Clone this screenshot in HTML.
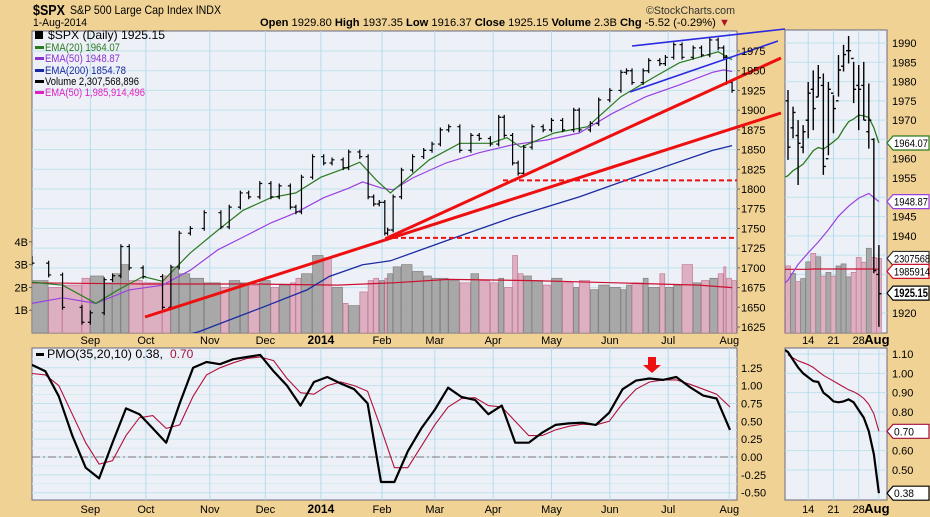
<!DOCTYPE html>
<html><head><meta charset="utf-8"><style>
body{margin:0;background:#f0d294;}
svg{display:block;font-family:"Liberation Sans",sans-serif;}
</style></head><body>
<svg id="chart" width="930" height="517" viewBox="0 0 930 517">
<rect x="0" y="0" width="930" height="517" fill="#f0d294"/>
<text x="33" y="15" font-size="15" font-weight="bold" fill="#000" textLength="32" lengthAdjust="spacingAndGlyphs">$SPX</text>
<text x="70" y="14" font-size="12" fill="#000" textLength="151" lengthAdjust="spacingAndGlyphs">S&amp;P 500 Large Cap Index INDX</text>
<text x="33" y="26" font-size="11" fill="#000" textLength="54" lengthAdjust="spacingAndGlyphs">1-Aug-2014</text>
<text x="646" y="14" font-size="11" fill="#333" textLength="89" lengthAdjust="spacingAndGlyphs">©StockCharts.com</text>
<text x="260" y="26" font-size="11" fill="#000" textLength="470" lengthAdjust="spacingAndGlyphs"><tspan font-weight="bold">Open</tspan> 1929.80 <tspan font-weight="bold">High</tspan> 1937.35 <tspan font-weight="bold">Low</tspan> 1916.37 <tspan font-weight="bold">Close</tspan> 1925.15 <tspan font-weight="bold">Volume</tspan> 2.3B <tspan font-weight="bold">Chg</tspan> -5.52 (-0.29%) <tspan fill="#b0102a">▼</tspan></text>
<defs>
<clipPath id="cMain"><rect x="32" y="31" width="705" height="302"/></clipPath>
<clipPath id="cPmo"><rect x="32" y="348" width="705" height="152"/></clipPath>
<clipPath id="cSmall"><rect x="785" y="30" width="102" height="303"/></clipPath>
<clipPath id="cSmallPmo"><rect x="785" y="348" width="102" height="152"/></clipPath>
</defs>
<g id="layer"></g>
</svg>
<script>
// ---------- main price data ----------
const days   = [0,6,11,18,21,26,29,32,35,40,47,50,53,57,62,68,71,75,78,82,86,89,93,95,97,101,105,108,112,114,118,121,123,125,127,128,130,133,137,141,144,147,150,154,158,161,165,168,170,173,175,177,180,184,187,191,195,197,201,204,208,212,214,216,220,222,226,228,231,234,238,241,244,247,249,250,252];
const closes = [1706,1691,1650,1631,1643,1685,1690,1727,1700,1689,1650,1701,1744,1750,1770,1752,1777,1795,1790,1807,1790,1804,1777,1771,1815,1841,1833,1837,1827,1847,1841,1790,1781,1783,1744,1748,1790,1824,1841,1849,1857,1875,1879,1849,1868,1864,1857,1891,1868,1833,1820,1853,1879,1875,1887,1875,1900,1875,1883,1913,1925,1948,1950,1935,1950,1963,1959,1967,1983,1967,1979,1970,1989,1979,1967,1935,1925];
const volumes = [2.3,2.0,2.1,2.4,2.5,2.2,2.6,3.0,2.3,2.2,2.5,2.9,2.6,2.4,2.2,2.0,2.3,2.2,2.1,2.3,2.0,2.1,2.2,2.4,2.6,3.4,3.3,2.0,1.3,1.2,1.8,2.3,2.4,2.3,2.4,2.6,2.9,3.0,2.7,2.5,2.4,2.4,2.3,2.2,2.6,2.3,2.2,2.4,2.0,3.4,2.6,2.5,2.3,2.1,2.4,2.2,2.0,2.3,1.9,2.1,2.0,1.9,2.1,2.2,2.4,2.0,2.6,2.0,2.1,3.0,2.2,2.3,2.4,2.6,2.9,2.4,2.3];
const ema20Days = [0,11,23,31,40,47,57,67,76,86,95,104,114,118,124,129,143,154,165,171,176,188,200,212,224,233,247,252];
const ema20Vals = [1682,1678,1655,1672,1689,1683,1719,1748,1773,1789,1795,1815,1828,1834,1811,1795,1837,1858,1858,1865,1853,1871,1879,1917,1942,1960,1974,1964];
const ema50Days = [0,11,23,35,47,57,67,76,86,95,105,114,119,126,130,137,149,161,173,185,197,209,221,233,245,249,252];
const ema50Vals = [1655,1662,1655,1672,1678,1697,1723,1739,1757,1770,1789,1801,1809,1801,1799,1814,1833,1846,1856,1862,1871,1896,1917,1932,1948,1951,1949];
const ema200Days = [30,60,83,99,107,119,129,152,173,197,221,245,252];
const ema200Vals = [1590,1619,1650,1672,1689,1704,1709,1738,1764,1790,1820,1849,1855];
const volEmaDays = [0,40,80,110,130,150,180,210,240,252];
const volEmaVals = [2.2,2.15,2.15,2.1,2.2,2.35,2.3,2.2,2.1,1.99];
const monthDays = [21,41,64,84,104,126,145,166,187,208,229,251];
const monthLabels = ["Sep","Oct","Nov","Dec","2014","Feb","Mar","Apr","May","Jun","Jul","Aug"];
const priceTicks = [1975,1950,1925,1900,1875,1850,1825,1800,1775,1750,1725,1700,1675,1650,1625];
const volTicks = [1,2,3,4];
// ---------- PMO (weekly) ----------
const pmoVals = [1.29,1.2,0.85,0.3,-0.15,-0.3,0.2,0.68,0.6,0.4,0.2,0.75,1.25,1.33,1.3,1.37,1.4,1.43,1.2,1.0,0.72,1.05,1.12,1.03,0.95,0.75,-0.35,-0.35,0.08,0.4,0.66,0.97,0.84,0.8,0.6,0.72,0.2,0.2,0.34,0.45,0.47,0.48,0.45,0.62,0.95,1.07,1.1,1.08,1.12,0.98,0.86,0.82,0.38];
const sigVals = [1.17,1.15,1.0,0.6,0.2,-0.1,-0.05,0.3,0.55,0.58,0.4,0.45,0.85,1.15,1.25,1.32,1.38,1.4,1.35,1.1,0.9,0.88,1.0,1.05,1.0,0.92,0.4,-0.15,-0.15,0.15,0.45,0.7,0.82,0.83,0.72,0.7,0.5,0.3,0.3,0.38,0.43,0.46,0.45,0.5,0.75,0.95,1.05,1.08,1.08,1.02,0.95,0.88,0.70];
const pmoTicks = [1.25,1.0,0.75,0.5,0.25,0.0,-0.25,-0.5];
// ---------- zoom panel (Jul 8 - Aug 1) ----------
const sOpens  = [1975,1968,1966,1963,1970,1978,1976,1979,1960,1977,1975,1984,1988,1986,1979,1979,1967,1965,1930];
const sHighs  = [1977.8,1973.5,1970.0,1968.7,1979.9,1982.9,1984.3,1982.1,1979.9,1976.5,1986.9,1989.5,1991.8,1985.1,1984.3,1985.1,1979.5,1965.3,1937.6];
const sLows   = [1959.7,1965.3,1953.2,1961.4,1965.3,1967.4,1976.1,1955.8,1960.9,1966.6,1976.1,1982.6,1984.7,1974.4,1967.4,1970.0,1962.6,1930.3,1916.4];
const sCloses = [1963,1972,1964,1967,1977,1973,1981,1958,1978,1973,1983,1987,1988,1978,1978,1970,1970,1931,1925];
const sVols   = [2.09,1.87,1.63,1.72,2.21,2.46,2.36,1.79,1.9,1.79,2.09,2.15,1.77,1.9,2.34,2.2,2.61,2.34,2.31];
const sVolEma = [1.99,1.99,1.99,1.99,1.99,2.0,2.0,2.0,2.0,2.0,2.0,2.0,2.0,2.0,2.0,2.0,2.0,2.0,1.99];
const sEma20  = [1955.6,1956.9,1957.7,1958.6,1960.3,1962.1,1962.9,1962.5,1963.4,1964.4,1965.5,1967.7,1969.6,1970.3,1971.3,1971.1,1970.7,1968.0,1964.07];
const sEma50Idx = [-1,0,2,4,6,8,10,12,14,16,18];
const sEma50Vals = [1927.3,1928.5,1932.6,1935.6,1938.4,1941.6,1945.1,1947.7,1949.8,1951.0,1948.87];
const sPmo = [1.11,1.07,1.03,1.0,0.98,0.96,0.955,0.9,0.88,0.855,0.85,0.855,0.865,0.85,0.81,0.77,0.70,0.58,0.38];
const sSig = [1.095,1.08,1.065,1.055,1.045,1.03,1.01,0.99,0.975,0.96,0.945,0.93,0.915,0.905,0.89,0.87,0.84,0.79,0.70];
const sDayTicks = [4,9,14,18];
const sDayLabels = ["14","21","28","Aug"];
const sPriceTicks = [1990,1985,1980,1975,1970,1965,1960,1955,1950,1945,1940,1935,1930,1925,1920];
const sPmoTicks = [1.10,1.00,0.90,0.80,0.70,0.60,0.50];

// ---------- scales ----------
const xD = d => 32 + d*2.778;
const yP = p => 51 + (1975-p)*0.7886;
const yV = v => 333 - v*22.8;
const xW = w => 32 + w*(698/52);
const yM = v => 457 - v*71.4;
const xS = i => 788 + i*5.05;
const yS = p => 43 + (1990-p)*3.857;
const yVS = v => 337 - v*34;
const yMS = v => 354 + (1.10-v)*193.3;

const NS="http://www.w3.org/2000/svg";
const root=document.getElementById('layer');
function mk(tag, attrs, parent){const e=document.createElementNS(NS,tag);for(const k in attrs)e.setAttribute(k,attrs[k]);(parent||root).appendChild(e);return e;}
function txt(x,y,s,attrs,parent){const e=mk('text',Object.assign({x:x,y:y,'font-size':11,fill:'#000'},attrs||{}),parent);e.textContent=s;return e;}
function poly(xs,ys,attrs,parent){let d='';for(let i=0;i<xs.length;i++)d+=(i?'L':'M')+xs[i].toFixed(1)+','+ys[i].toFixed(1);return mk('path',Object.assign({d:d,fill:'none'},attrs),parent);}

// ---------- panels ----------
let e;
e=mk('rect',{x:32,y:31,width:705,height:302,fill:'#eef0f8',stroke:'#6a6a80'});


e=mk('rect',{x:32,y:348,width:705,height:152,fill:'#eef0f8',stroke:'#6a6a80'});


e=mk('rect',{x:785,y:30,width:102,height:303,fill:'#eef0f8',stroke:'#6a6a80'});


e=mk('rect',{x:785,y:348,width:102,height:152,fill:'#eef0f8',stroke:'#6a6a80'});



// gridlines main
const gMain=mk('g',{'clip-path':'url(#cMain)'});


priceTicks.forEach(p=>{e=mk('line',{x1:32,x2:737,y1:yP(p),y2:yP(p),stroke:'#bfe2ea','stroke-width':1},gMain);

});
const gPmo=mk('g',{'clip-path':'url(#cPmo)'});


pmoTicks.forEach(v=>{e=mk('line',{x1:32,x2:737,y1:yM(v),y2:yM(v),stroke:'#bfe2ea'},gPmo);

});
[1.375,1.125,0.875,0.625,0.375,0.125,-0.125,-0.375].forEach(v=>{mk('line',{x1:32,x2:737,y1:yM(v),y2:yM(v),stroke:'#d6ebf0'},gPmo);});
monthDays.forEach((d,i)=>{
 e=mk('line',{x1:xD(d),x2:xD(d),y1:31,y2:333,stroke:'#b4dcea'},gMain);
 
 
 mk('line',{x1:xD(d),x2:xD(d),y1:348,y2:500,stroke:'#b4dcea'},gPmo);
 const bold = monthLabels[i]==="2014";
 e=txt(xD(d),344,monthLabels[i],{'text-anchor':'middle','font-weight':bold?'bold':'normal','font-size':bold?12:11});
 
 
 e=txt(xD(d),513,monthLabels[i],{'text-anchor':'middle','font-weight':bold?'bold':'normal','font-size':bold?12:11});
 
 
});
e=mk('line',{x1:32,x2:737,y1:yM(0),y2:yM(0),stroke:'#777','stroke-dasharray':'8,3,2,3'},gPmo);



// volume bars
for(let i=0;i<closes.length;i++){
 const x0=xD(days[i]); const x1=i<closes.length-1?xD(days[i+1]):737;
 const up = i===0 || closes[i]>=closes[i-1];
 e=mk('rect',{x:x0,y:yV(volumes[i]),width:Math.max(1,x1-x0-0.6),height:333-yV(volumes[i]),fill:up?'#a8a8a8':'#dcb0c0',stroke:up?'#808080':'#c47a98','stroke-width':0.7},gMain);
 
 
}
e=poly(volEmaDays.map(xD),volEmaVals.map(yV),{stroke:'#cc1030','stroke-width':1.2},gMain);


// EMAs
e=poly(ema200Days.map(xD),ema200Vals.map(yP),{stroke:'#1a2aa0','stroke-width':1.3},gMain);


e=poly(ema50Days.map(xD),ema50Vals.map(yP),{stroke:'#9a40e0','stroke-width':1.2},gMain);


e=poly(ema20Days.map(xD),ema20Vals.map(yP),{stroke:'#2a7a20','stroke-width':1.2},gMain);


// price bars
for(let i=0;i<closes.length;i++){
 const x=xD(days[i]); const prev=i?closes[i-1]:closes[i]+6;
 const hi=Math.max(prev,closes[i])+3, lo=Math.min(prev,closes[i])-3;
 e=mk('path',{d:`M${x},${yP(hi)}L${x},${yP(lo)}M${x-2.5},${yP(prev)}L${x},${yP(prev)}M${x},${yP(closes[i])}L${x+2.5},${yP(closes[i])}`,stroke:'#000','stroke-width':1.2,fill:'none'},gMain);
 
 
}
// annotations
e=mk('line',{x1:503,x2:737,y1:yP(1811),y2:yP(1811),stroke:'#ee1010','stroke-width':2,'stroke-dasharray':'5,3'});


e=mk('line',{x1:385,x2:737,y1:yP(1738),y2:yP(1738),stroke:'#ee1010','stroke-width':2,'stroke-dasharray':'5,3'});


e=mk('line',{x1:145,y1:317,x2:781,y2:113,stroke:'#ee1010','stroke-width':3});


e=mk('line',{x1:387,y1:238,x2:781,y2:58,stroke:'#ee1010','stroke-width':3});


e=mk('line',{x1:632,y1:46,x2:785,y2:29,stroke:'#2a2ae0','stroke-width':1.6});


e=mk('line',{x1:630,y1:92,x2:778,y2:41,stroke:'#2a2ae0','stroke-width':1.6});



// legend
const lg=[["$SPX (Daily) 1925.15","#000",39,12,117],["EMA(20) 1964.07","#2a7a20",51,11,75],["EMA(50) 1948.87","#8a30d0",62,11,75],["EMA(200) 1854.78","#1a2aa0",74,11,81],["Volume 2,307,568,896","#000",85,11,94],["EMA(50) 1,985,914,496","#e020c0",96,11,100]];
lg.forEach((l,i)=>{
 e=mk('rect',{x:35,y:l[2]-(i===0?8:5),width:i===0?8:9,height:i===0?8:3,fill:l[1]});
 
 
 e=txt(i===0?48:45,l[2],l[0],{fill:l[1],'font-size':l[3],textLength:l[4],lengthAdjust:'spacingAndGlyphs'});
 
 
});
// axes labels
priceTicks.forEach(p=>{e=txt(741,yP(p)+4,String(p),{'font-size':11});


mk('line',{x1:737,x2:740,y1:yP(p),y2:yP(p),stroke:'#666'});});
volTicks.forEach(v=>{e=txt(28,yV(v)+4,v+"B",{'font-size':11,'text-anchor':'end'});


mk('line',{x1:29,x2:32,y1:yV(v),y2:yV(v),stroke:'#666'});});
pmoTicks.forEach(v=>{e=txt(741,yM(v)+4,v.toFixed(2),{'font-size':11});

});

// PMO lines
const wIdx=pmoVals.map((v,i)=>i);
e=poly(wIdx.map(xW),sigVals.map(yM),{stroke:'#b0103a','stroke-width':1.1},gPmo);


e=poly(wIdx.map(xW),pmoVals.map(yM),{stroke:'#000','stroke-width':2.2,'stroke-linejoin':'round'},gPmo);


e=mk('rect',{x:36,y:353,width:8,height:3,fill:'#000'});


e=txt(47,358,"PMO(35,20,10) 0.38, ",{'font-size':12,textLength:116,lengthAdjust:'spacingAndGlyphs'});


e=txt(170,358,"0.70",{'font-size':12,fill:'#a0103a'});


e=mk('path',{d:'M648,357L656,357L656,365L661,365L652,373L643,365L648,365Z',fill:'#ee1010'});



// ---------- zoom panel ----------
const gS=mk('g',{'clip-path':'url(#cSmall)'});


const gSP=mk('g',{'clip-path':'url(#cSmallPmo)'});


sPriceTicks.forEach(p=>{mk('line',{x1:785,x2:887,y1:yS(p),y2:yS(p),stroke:'#bfe2ea'},gS);
e=txt(892,yS(p)+4,String(p),{'font-size':11});

});
sPmoTicks.forEach(v=>{mk('line',{x1:785,x2:887,y1:yMS(v),y2:yMS(v),stroke:'#bfe2ea'},gSP);
e=txt(892,yMS(v)+4,v.toFixed(2),{'font-size':11});

});
sDayTicks.forEach((d,i)=>{
 mk('line',{x1:xS(d),x2:xS(d),y1:30,y2:333,stroke:'#b4dcea'},gS);
 mk('line',{x1:xS(d),x2:xS(d),y1:348,y2:500,stroke:'#b4dcea'},gSP);
 const b=sDayLabels[i]==="Aug";
 e=txt(xS(d)+(b?-2:0),344,sDayLabels[i],{'text-anchor':'middle','font-weight':b?'bold':'normal','font-size':b?13:11});
 
 
 e=txt(xS(d)+(b?-2:0),513,sDayLabels[i],{'text-anchor':'middle','font-weight':b?'bold':'normal','font-size':b?13:11});
 
 
});
sVols.forEach((v,i)=>{const up=sCloses[i]>=sOpens[i];
 e=mk('rect',{x:xS(i)-2.5,y:yVS(v),width:5,height:333-yVS(v),fill:up?'#a8a8a8':'#dcb0c0',stroke:up?'#808080':'#c47a98','stroke-width':0.7},gS);
 
 });
const sIdx=sCloses.map((v,i)=>i);
e=poly([-1].concat(sIdx).map(xS),[sVolEma[0]].concat(sVolEma).map(yVS),{stroke:'#cc1030','stroke-width':1.2},gS);


e=poly(sEma50Idx.map(xS),sEma50Vals.map(yS),{stroke:'#9a40e0','stroke-width':1.2},gS);


e=poly([-1].concat(sIdx).map(xS),[1955].concat(sEma20).map(yS),{stroke:'#2a7a20','stroke-width':1.3},gS);


sCloses.forEach((c,i)=>{const x=xS(i);
 e=mk('path',{d:`M${x},${yS(sHighs[i])}L${x},${yS(sLows[i])}M${x-2.5},${yS(sOpens[i])}L${x},${yS(sOpens[i])}M${x},${yS(c)}L${x+2.5},${yS(c)}`,stroke:'#000','stroke-width':1.4,fill:'none'},gS);
 
 });
e=poly(sIdx.map(xS),sSig.map(yMS),{stroke:'#b0103a','stroke-width':1.1},gSP);


e=poly([-0.6].concat(sIdx).map(xS),[1.12].concat(sPmo).map(yMS),{stroke:'#000','stroke-width':2.2},gSP);



// value tags
function tag(y,label,color,bold,name,w){
 const g=mk('g',{});
 
 
 mk('path',{d:`M887,${y}L893,${y-7}L929,${y-7}L929,${y+7}L893,${y+7}Z`,fill:'#fff',stroke:color,'stroke-width':1.2},g);
 txt(894,y+4,label,{'font-size':bold?12:11,'font-weight':bold?'bold':'normal',textLength:w,lengthAdjust:'spacingAndGlyphs'},g);
 return g;
}
tag(yS(1964.07),"1964.07","#2a7a20",false,'ema20-value-tag',34);
tag(yS(1948.87),"1948.87","#9a40e0",false,'ema50-value-tag',34);
tag(yVS(2.31),"2307568","#333",false,'volume-value-tag',36);
tag(yVS(1.99)+2,"1985914","#cc1030",false,'volume-ema-value-tag',36);
tag(yS(1925.15),"1925.15","#000",true,'close-value-tag',34);
tag(yMS(0.70),"0.70","#a0103a",false,'signal-value-tag',20);
tag(yMS(0.38),"0.38","#000",false,'pmo-value-tag',20);
</script>
</body></html>
